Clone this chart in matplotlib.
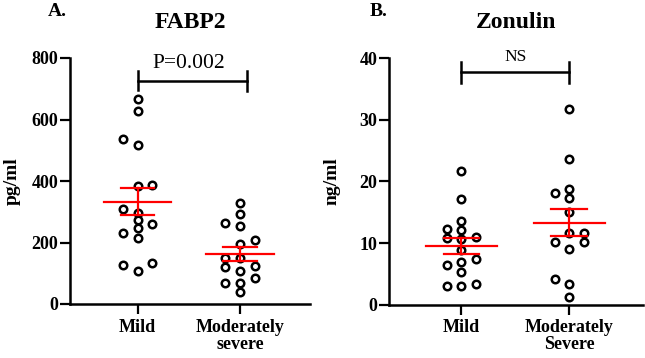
import matplotlib
matplotlib.use('Agg')
import matplotlib.pyplot as plt
import numpy as np

plt.rcParams['font.family'] = ['Liberation Serif', 'DejaVu Serif']

# FABP2 (pg/ml)
fabp2_mild = [666, 628, 536, 516, 386, 385, 310, 297, 272, 259, 246, 231, 216, 132, 127, 108]
fabp2_mod = [330, 293, 265, 254, 209, 195, 151, 149, 124, 120, 106, 85, 69, 68, 38]

# Zonulin (ng/ml)
zon_mild = [21.7, 17.1, 13.6, 12.2, 12.1, 10.9, 10.8, 10.6, 8.8, 7.4, 7.0, 6.5, 5.3, 3.3, 3.0, 3.0]
zon_mod = [31.8, 23.7, 18.8, 18.1, 17.3, 15.1, 11.7, 11.6, 10.2, 10.1, 9.1, 4.1, 3.3, 1.3]

labels_a = ['Mild', 'Moderately\nsevere']
labels_b = ['Mild', 'Moderately\nSevere']


def swarm_offsets(ax, values, step_px=7.35, min_dy=7.5):
	# simple beeswarm: grid of half steps, neighbours closer than min_dy
	# vertically must be two steps apart horizontally
	to_px = ax.transData.transform
	ypx = [to_px((0, v))[1] for v in values]
	order = np.argsort(values)
	placed = []  # (ypx, k)
	ks = [0] * len(values)
	for i in order:
		y = ypx[i]
		best = None
		for mag in range(0, 12):
			cands = [0] if mag == 0 else [-mag, mag]
			if mag > 0:
				nleft = sum(1 for _, k in placed if k < 0)
				nright = sum(1 for _, k in placed if k > 0)
				if nright < nleft:
					cands = [mag, -mag]
			for k in cands:
				ok = True
				for py, pk in placed:
					if abs(py - y) < min_dy and abs(pk - k) < 2:
						ok = False
						break
				if ok:
					best = k
					break
			if best is not None:
				break
		ks[i] = best
		placed.append((y, best))
	px_per_x = to_px((1, 0))[0] - to_px((0, 0))[0]
	return np.array(ks) * step_px / px_per_x


def draw_panel(ax, groups, ticklabels, ymax, ystep, ylabel):
	ax.set_ylim(0, ymax)
	ax.set_yticks(np.arange(0, ymax + 1, ystep))
	ax.set_xticks([0, 1])
	ax.set_xticklabels(ticklabels, fontweight='bold', fontsize=13, linespacing=1.0)
	for lbl in ax.get_yticklabels():
		lbl.set_fontweight('bold')
		lbl.set_fontsize(13)
	for i, vals in enumerate(groups):
		off = swarm_offsets(ax, vals)
		ax.plot(i + off, vals, 'o', ms=5.4, mfc='white', mec='black', mew=1.8,
				zorder=3, clip_on=False)
		m = np.mean(vals)
		sem = np.std(vals, ddof=1) / np.sqrt(len(vals))
		ax.plot([i - 0.33, i + 0.33], [m, m], color='#ff0000', lw=1.6, zorder=4)
		ax.plot([i - 0.165, i + 0.165], [m + sem, m + sem], color='#ff0000', lw=1.6, zorder=4)
		ax.plot([i - 0.165, i + 0.165], [m - sem, m - sem], color='#ff0000', lw=1.6, zorder=4)
		ax.plot([i, i], [m - sem, m + sem], color='#ff0000', lw=1.6, zorder=4)
	ax.spines['top'].set_visible(False)
	ax.spines['right'].set_visible(False)
	ax.spines['left'].set_linewidth(1.8)
	ax.spines['bottom'].set_linewidth(1.8)
	ax.tick_params(axis='both', length=7, width=1.6, direction='out')
	ax.tick_params(axis='y', pad=1.5)
	ax.tick_params(axis='x', pad=3.5)
	ax.set_ylabel(ylabel, fontweight='bold', fontsize=14)


fig = plt.figure(figsize=(6.45, 3.58), dpi=100)

ax1 = fig.add_axes([70/645, 54/358, 240/645, 246/358])
ax1.set_xlim(-0.659, 1.683)
draw_panel(ax1, [fabp2_mild, fabp2_mod], labels_a, 800, 200, 'pg/ml')
ax1.yaxis.set_label_coords(-0.205, 0.5)
fig.text(190/645, 1 - 28/358, 'FABP2', ha='center', va='baseline',
		 fontweight='bold', fontsize=17)
ax1.plot([0, 1.07], [725, 725], color='black', lw=1.8, clip_on=False)
ax1.plot([0, 0], [697, 757], color='black', lw=1.8, clip_on=False)
ax1.plot([1.07, 1.07], [692, 758], color='black', lw=1.8, clip_on=False)
ax1.text(0.5, 767, 'P=0.002', ha='center', va='baseline', fontsize=15.5)
fig.text(48/645, 1 - 16/358, 'A.', fontweight='bold', fontsize=14)

ax2 = fig.add_axes([389/645, 53.3/358, 254/645, 246.7/358])
ax2.set_xlim(-0.671, 1.683)
draw_panel(ax2, [zon_mild, zon_mod], labels_b, 40, 10, 'ng/ml')
ax2.yaxis.set_label_coords(-0.19, 0.5)
fig.text(516/645, 1 - 28/358, 'Zonulin', ha='center', va='baseline',
		 fontweight='bold', fontsize=17)
ax2.plot([0, 1], [37.7, 37.7], color='black', lw=1.8, clip_on=False)
ax2.plot([0, 0], [36.0, 39.3], color='black', lw=1.8, clip_on=False)
ax2.plot([1, 1], [36.0, 39.3], color='black', lw=1.8, clip_on=False)
ax2.text(0.5, 39.5, 'NS', ha='center', va='baseline', fontsize=12.5)
fig.text(370/645, 1 - 16/358, 'B.', fontweight='bold', fontsize=14)

fig.savefig('out.png', dpi=100)
print('wrote to out.png')
